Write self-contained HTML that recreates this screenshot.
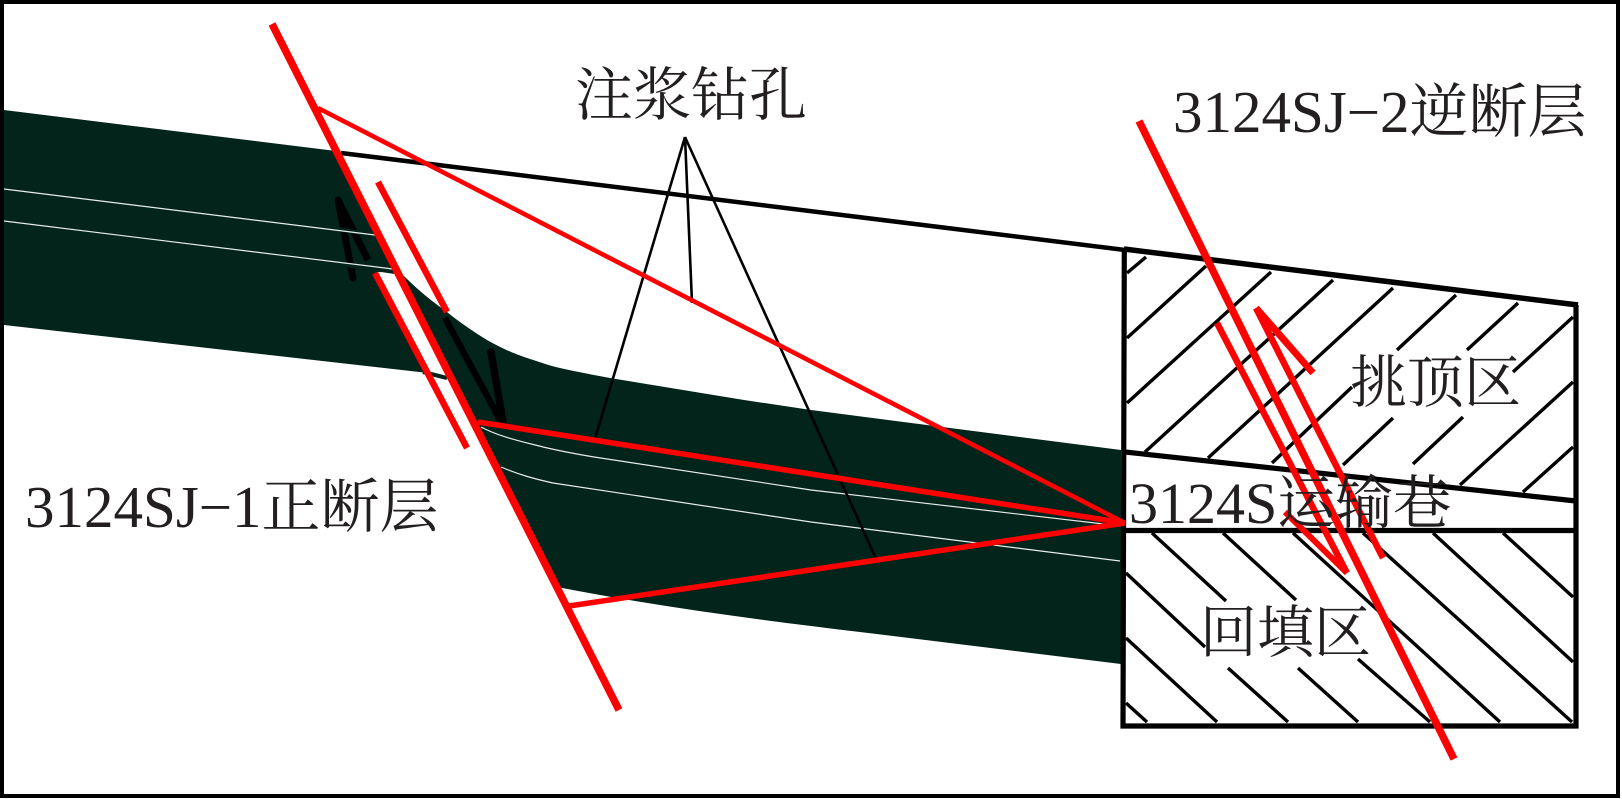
<!DOCTYPE html>
<html><head><meta charset="utf-8">
<style>
html,body{margin:0;padding:0;background:#fff}
svg{display:block}
text{font-family:"Liberation Serif","Noto Serif CJK SC",serif;font-size:59px;fill:#231f20}
</style></head>
<body>
<svg width="1622" height="799" viewBox="0 0 1622 799" xmlns="http://www.w3.org/2000/svg">
<rect width="1622" height="799" fill="#fff"/>
<!-- coal seam -->
<path d="M4,110 L336,151 L393,268 L375,273 L428,373 L4,325 Z" fill="#02241a"/>
<path d="M400,273 L405,277 C420,292 433,302 447,312 C462,324 474,332 487,340 C503,349 515,354 527,358 C540,362 550,366 560,368 C578,372 594,375 610,378 L744,400 L811,410 L1121,450 L1121,664 L860,632 C760,620 660,607 557,587 Z" fill="#02241a"/>
<!-- black slivers -->
<g stroke="#000" fill="none" stroke-linecap="round">
<path d="M338,200 L353,278" stroke-width="7"/>
<path d="M338,200 L368,260" stroke-width="7" stroke-linecap="butt"/>
<path d="M445,318 L500,420" stroke-width="6.5" stroke-linecap="butt"/>
<path d="M491,352 L503,422" stroke-width="7.5"/>
</g>
<g stroke="#02241a" fill="none" stroke-width="4">
<path d="M338,229 L378,236"/>
<path d="M345,265 L395,272"/>
<path d="M423,372 L447,378"/>
</g>
<!-- seam partings -->
<g stroke="#e8ecea" fill="none" stroke-width="1.2">
<path d="M4,189 L375,235"/>
<path d="M4,221 L393,269"/>
<path d="M481,427 C500,437 520,441 543,447 C560,451 576,454 594,457 L811,490 L1121,526"/>
<path d="M501,467 C520,475 535,479 553,483 L811,522 L1120,561"/>
</g>
<!-- roof line -->
<path d="M341,153 L1125,250" stroke="#000" stroke-width="4.5" fill="none"/>
<!-- box -->
<g stroke="#000" fill="none" stroke-width="5.2">
<path d="M1124,249 L1578,305" stroke-width="5.5"/>
<path d="M1125,452 L1576,501"/>
<path d="M1124,530.5 L1576,530.5"/>
<path d="M1124.3,250 L1123,726 L1576,726 L1576,305"/>
</g>
<!-- hatch -->
<g stroke="#000" fill="none" stroke-width="3.4">
<path d="M1146,257 L1127,273"/>
<path d="M1206,266 L1127,338"/>
<path d="M1271,272 L1127,403"/>
<path d="M1333,280 L1145,452"/>
<path d="M1393,288 L1208,458"/>
<path d="M1456,295 L1397,350 M1352,387 L1272,463"/>
<path d="M1518,303 L1467,350 M1393,418 L1343,465"/>
<path d="M1573,317 L1513,372 M1463,417 L1413,464"/>
<path d="M1573,382 L1460,485"/>
<path d="M1573,447 L1523,492"/>
<path d="M1126,703 L1147,722"/>
<path d="M1126,638 L1217,722"/>
<path d="M1126,573 L1205,647 M1228,668 L1288,722"/>
<path d="M1152,533 L1226,601 M1298,668 L1358,722"/>
<path d="M1223,533 L1296,600 M1358,659 L1430,722"/>
<path d="M1293,533 L1500,722"/>
<path d="M1363,533 L1572,722"/>
<path d="M1433,533 L1573,662"/>
<path d="M1503,533 L1573,597"/>
</g>
<!-- leaders -->
<g stroke="#000" fill="none" stroke-width="2.6">
<path d="M685,137 L594,442"/>
<path d="M685,137 L692,303"/>
<path d="M685,137 L877,561"/>
</g>
<!-- red -->
<g stroke="#f00" fill="none">
<path d="M272,24 L619,710" stroke-width="7.5"/>
<path d="M378,182 L447,312" stroke-width="6.5"/>
<path d="M375,273 L467,448" stroke-width="6.5"/>
<path d="M318,108 L1125,523" stroke-width="4.6"/>
<path d="M478,422 L1125,523" stroke-width="5.5"/>
<path d="M569,606 L1125,523" stroke-width="5.5"/>
<path d="M1139,121 L1454,759" stroke-width="7.5"/>
<path d="M1217,323 L1347,573" stroke-width="6.5"/>
<path d="M1285,512 L1347,573" stroke-width="6"/>
<path d="M1256,308 L1383,558" stroke-width="6.5"/>
<path d="M1256,308 L1313,373" stroke-width="7"/>
</g>
<!-- frame -->
<rect x="2" y="2" width="1616" height="794" fill="none" stroke="#000" stroke-width="4"/>
<!-- labels -->
<text x="575" y="115" style="font-size:58px">注浆钻孔</text>
<text x="1173" y="132">3124SJ−2逆断层</text>
<text x="25" y="527">3124SJ−1正断层</text>
<text x="1129" y="523" style="font-size:58px">3124S运输巷</text>
<text x="1350" y="402" style="font-size:57px">挑顶区</text>
<text x="1200" y="652" style="font-size:57px">回填区</text>
</svg>
</body></html>
